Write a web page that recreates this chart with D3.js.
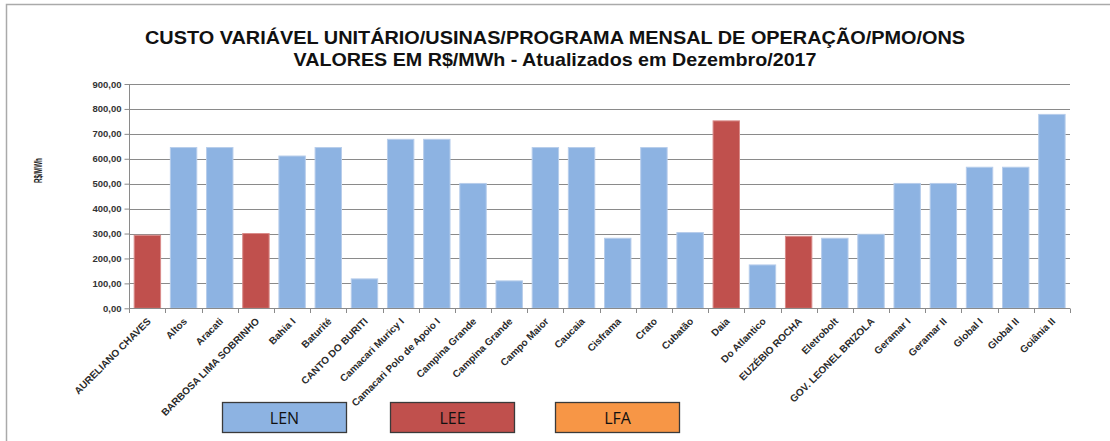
<!DOCTYPE html>
<html><head><meta charset="utf-8">
<script src="https://cdn.jsdelivr.net/npm/d3@7"></script>
<style>body{margin:0;background:#fff}svg{display:block}</style>
</head><body>
<svg id="c" width="1110" height="441"></svg>
<script>
const categories = ["AURELIANO CHAVES","Altos","Aracati","BARBOSA LIMA SOBRINHO","Bahia I","Baturité","CANTO DO BURITI","Camacari Muricy I","Camacari Polo de Apoio I","Campina Grande","Campina Grande ","Campo Maior","Caucaia","Cisframa","Crato","Cubatão","Daia","Do Atlantico","EUZÉBIO ROCHA","Eletrobolt","GOV. LEONEL BRIZOLA","Geramar I","Geramar II","Global I","Global II","Goiânia II"];
const values = [293,645,645,300,611,645,118,678,678,501,110,645,645,281,645,304,752,174,289,281,297,501,501,566,566,778];
const types = ["LEE","LEN","LEN","LEE","LEN","LEN","LEN","LEN","LEN","LEN","LEN","LEN","LEN","LEN","LEN","LEN","LEE","LEN","LEE","LEN","LEN","LEN","LEN","LEN","LEN","LEN"];
const yTicks = [0,100,200,300,400,500,600,700,800,900];
const legendItems = ["LEN","LEE","LFA"];
const titleLines = ["CUSTO VARIÁVEL UNITÁRIO/USINAS/PROGRAMA MENSAL DE OPERAÇÃO/PMO/ONS","VALORES EM R$/MWh - Atualizados em Dezembro/2017"];
const yLabel = "R$/MWh";

const fill = {LEN:"#8DB3E2", LEE:"#C0504D", LFA:"#F79646"};
const stroke = {LEN:"#B7CDEB", LEE:"#D98B89", LFA:"#F9B47C"};

const svg = d3.select("#c");
svg.append("rect").attr("x",6.5).attr("y",4.5).attr("width",1200).attr("height",600)
  .attr("fill","none").attr("stroke","#aaa").attr("stroke-width",1.5);

const x = d3.scaleBand().domain(categories).range([129.3,1070]).paddingInner(0.27).paddingOuter(0.135);
const y = d3.scaleLinear().domain([0,900]).range([308.3,84]);

svg.append("g").selectAll("line").data(yTicks.slice(1)).join("line")
  .attr("x1",129.3).attr("x2",1070).attr("y1",d=>Math.round(y(d))+0.5).attr("y2",d=>Math.round(y(d))+0.5)
  .attr("stroke","#8a8a8a").attr("stroke-width",1);

svg.append("g").selectAll("rect").data(values).join("rect")
  .attr("x",(d,i)=>x(categories[i])).attr("width",x.bandwidth())
  .attr("y",d=>y(d)).attr("height",d=>y(0)-y(d))
  .attr("fill",(d,i)=>fill[types[i]]).attr("stroke",(d,i)=>stroke[types[i]]).attr("stroke-width",1);

const yAxis = d3.axisLeft(y).tickValues(yTicks).tickSize(5).tickPadding(3)
  .tickFormat(d=>d3.format(".2f")(d).replace(".",","));
const gy = svg.append("g").attr("transform","translate(129.5,0)").call(yAxis);
gy.select(".domain").attr("stroke","#8a8a8a").attr("d","M0,84V308.5");
gy.selectAll(".tick line").attr("stroke","#8a8a8a");
gy.selectAll(".tick text").attr("font-family","Liberation Sans, Arial, sans-serif").attr("font-size","9.5px")
  .attr("font-weight","bold").attr("fill","#333");

const step = x.step();
const xb = [];
for (let i=0;i<=categories.length;i++) xb.push(129.3 + i*step);
const gx = svg.append("g");
gx.append("line").attr("x1",129.3).attr("x2",1070).attr("y1",308.5).attr("y2",308.5).attr("stroke","#8a8a8a");
gx.selectAll("line.t").data(xb).join("line").attr("class","t")
  .attr("x1",d=>Math.round(d)+0.5).attr("x2",d=>Math.round(d)+0.5).attr("y1",308.5).attr("y2",313).attr("stroke","#8a8a8a");
gx.selectAll("text").data(categories).join("text")
  .attr("transform",d=>`translate(${x(d)+x.bandwidth()/2+4},322) rotate(-45)`)
  .attr("text-anchor","end")
  .attr("font-family","Liberation Sans, Arial, sans-serif").attr("font-size","10px").attr("font-weight","bold")
  .attr("fill","#2a2a2a").text(d=>d.trim());

svg.append("text").attr("transform","translate(42,170.5) rotate(-90)").attr("text-anchor","middle")
  .attr("font-family","Liberation Sans Narrow, Liberation Sans, Arial, sans-serif").attr("font-size","10px").attr("font-weight","bold")
  .attr("fill","#222").attr("textLength",25).attr("lengthAdjust","spacingAndGlyphs").text(yLabel);

const tW = [820, 523];
const tB = [44, 66];
svg.append("g").selectAll("text").data(titleLines).join("text")
  .attr("x",555).attr("y",(d,i)=>tB[i]).attr("text-anchor","middle")
  .attr("font-family","Liberation Sans Narrow, Arial Narrow, Liberation Sans, sans-serif")
  .attr("font-size","19px").attr("font-weight","bold").attr("fill","#111")
  .attr("textLength",(d,i)=>tW[i]).attr("lengthAdjust","spacingAndGlyphs").text(d=>d);

const lx = [222.5, 390.5, 555.5];
const lg = svg.append("g").selectAll("g").data(legendItems).join("g")
  .attr("transform",(d,i)=>`translate(${lx[i]},402.5)`);
lg.append("rect").attr("width",124).attr("height",30).attr("fill",d=>fill[d]).attr("stroke","#3a3a3a").attr("stroke-width",1.3);
lg.append("text").attr("x",62).attr("y",21).attr("text-anchor","middle")
  .attr("font-family","Open Sans, Liberation Sans, sans-serif").attr("font-size","16px").attr("fill","#111").text(d=>d);
</script>
</body></html>
